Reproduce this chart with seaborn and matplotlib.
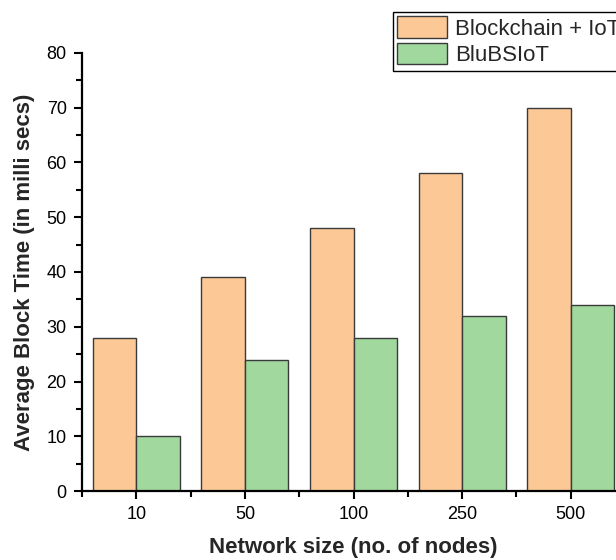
import matplotlib
matplotlib.use("Agg")
import matplotlib.pyplot as plt
from matplotlib.ticker import MultipleLocator, FixedLocator
from matplotlib.patches import Patch
import seaborn as sns
import pandas as pd

# Network sizes (no. of nodes) and average block times in ms
network_sizes = ["10", "50", "100", "250", "500"]
blockchain_iot = [28, 39, 48, 58, 70]
blubsiot = [10, 24, 28, 32, 34]
series_names = ["Blockchain + IoT", "BluBSIoT"]
palette = ["#FCC895", "#A0D89E"]

df = pd.DataFrame({
    "size": network_sizes * 2,
    "time": blockchain_iot + blubsiot,
    "method": [series_names[0]] * len(network_sizes) + [series_names[1]] * len(network_sizes),
})

sns.set_style("ticks")
plt.rcParams["font.family"] = ["Liberation Sans", "DejaVu Sans"]

fig = plt.figure(figsize=(6.16, 5.6), dpi=100)
ax = fig.add_axes([82 / 616, 1 - 491 / 560, (625 - 82) / 616, (491 - 53) / 560])

sns.barplot(data=df, x="size", y="time", hue="method", order=network_sizes,
            hue_order=series_names, palette=palette, width=0.8, gap=0,
            edgecolor="#3a3a3a", linewidth=1.0, saturation=1, ax=ax, legend=False)

ax.set_xlim(-0.5, len(network_sizes) - 0.5)
ax.set_ylim(0, 80)
ax.yaxis.set_major_locator(MultipleLocator(10))
ax.yaxis.set_minor_locator(MultipleLocator(5))
ax.xaxis.set_minor_locator(FixedLocator([i - 0.5 for i in range(len(network_sizes) + 1)]))

for side in ("top", "right"):
    ax.spines[side].set_visible(False)
for side in ("left", "bottom"):
    ax.spines[side].set_linewidth(1.6)
    ax.spines[side].set_color("black")

ax.tick_params(axis="both", which="major", direction="out", length=6, width=1.5,
               labelsize=13, colors="black", pad=5)
ax.tick_params(axis="both", which="minor", direction="out", length=4, width=1.5, colors="black")

ax.set_xlabel("Network size (no. of nodes)", fontsize=16, fontweight="bold", labelpad=10)
ax.set_ylabel("Average Block Time (in milli secs)", fontsize=16, fontweight="bold", labelpad=8)

handles = [Patch(facecolor=c, edgecolor="#3a3a3a", linewidth=1.0) for c in palette]
leg = fig.legend(handles, series_names, loc="upper left",
                 bbox_to_anchor=(393 / 616, 1 - 12 / 560), bbox_transform=fig.transFigure,
                 fontsize=16, frameon=True, fancybox=False, framealpha=1,
                 handlelength=2.25, handleheight=1.1, handletextpad=0.35,
                 borderpad=0.2, labelspacing=0.15, borderaxespad=0)
leg.get_frame().set_edgecolor("black")
leg.get_frame().set_linewidth(1.0)

fig.savefig("out.png", dpi=100)
